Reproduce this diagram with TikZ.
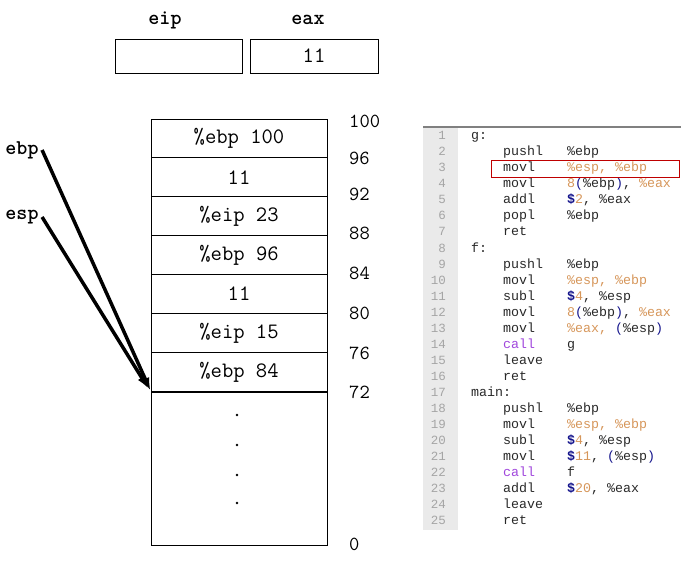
\documentclass[tikz,border=0pt]{standalone}
\usepackage{fontspec}
\newfontfamily\codefont{Liberation Mono}
\usetikzlibrary{arrows.meta,positioning}
\definecolor{regorange}{RGB}{214,150,90}
\definecolor{immblue}{RGB}{20,20,140}
\definecolor{callpurple}{RGB}{160,70,220}
\definecolor{guttergray}{RGB}{234,234,234}
\definecolor{linenogray}{RGB}{165,165,165}
\definecolor{codegray}{RGB}{40,40,40}
\newcommand{\rgo}[1]{\textcolor{regorange}{#1}}
\newcommand{\dol}{\textcolor{immblue}{\textbf{\$}}}
\newcommand{\prn}[1]{\textcolor{immblue}{#1}}

\begin{document}
\begin{tikzpicture}[x=1pt,y=-1pt,
    cell/.style={draw,line width=0.9pt,minimum width=176pt,minimum height=38.9pt,inner sep=0pt,
      font=\ttfamily\fontsize{22}{24}\selectfont},
    regbox/.style={draw,line width=0.9pt,minimum height=34pt,inner sep=0pt,
      font=\ttfamily\fontsize{22}{24}\selectfont},
    reglabel/.style={font=\ttfamily\bfseries\fontsize{21}{24}\selectfont},
    addr/.style={anchor=west,inner sep=0pt,font=\ttfamily\fontsize{20}{22}\selectfont},
    code/.style={anchor=base west,inner sep=0pt,text=codegray,font=\codefont\fontsize{13.3}{16}\selectfont},
    lineno/.style={anchor=base east,inner sep=0pt,text=linenogray,font=\codefont\fontsize{12.5}{14}\selectfont},
    ptr/.style={line width=3.5pt,-{Latex[length=13pt,width=9pt]}}]
  \useasboundingbox (0,0) rectangle (690,561);

  % registers
  \node[reglabel] (eiplbl) at (165,20) {eip};
  \node[reglabel] (eaxlbl) at (308,20) {eax};
  \node[regbox,minimum width=127pt] (eipbox) at (178.5,56) {};
  \node[regbox,minimum width=128pt] (eaxbox) at (314,56) {11};

  % stack cells
  \foreach \txt [count=\i] in {\%ebp 100, 11, \%eip 23, \%ebp 96, 11, \%eip 15, \%ebp 84}
    \node[cell] (s\i) at (239,{119+38.9*(\i-0.5)}) {\txt};
  \node[cell,minimum height=153pt,anchor=north] (rest) at (s7.south) {};
  \foreach \y in {415,445,475,503}
    \fill (237,\y) circle (1.3pt);

  % addresses
  \foreach \a/\y in {100/121, 96/158, 92/194, 88/233, 84/273, 80/313, 76/353, 72/392, 0/544}
    \node[addr] (a\a) at (349,\y) {\a};

  % ebp / esp pointers
  \node[reglabel] (ebp) at (22,150) {ebp};
  \node[reglabel] (esp) at (22,217) {esp};
  \draw[ptr] (ebp.east) -- ([yshift=1pt]s7.south west);
  \draw[ptr] (esp.east) -- ([xshift=-2pt,yshift=3pt]s7.south west);

  % listing
  \fill[guttergray] (423,128) rectangle (458,530);
  \draw[gray,line width=1.6pt] (423,127) -- (681,127);
  \foreach \n in {1,...,25}
    \node[lineno] (n\n) at (446,{140+16*(\n-1)}) {\n};
  \foreach \n/\lbl in {1/g:, 8/f:, 17/main:}
    \node[code] (l\n) at (471,{140+16*(\n-1)}) {\lbl};
  \foreach \n/\m/\o in {
      2/pushl/{\%ebp},
      3/movl/{\rgo{\%esp, \%ebp}},
      4/movl/{\rgo{8}\prn{(}\%ebp\prn{)}, \rgo{\%eax}},
      5/addl/{\dol\rgo{2}, \%eax},
      6/popl/{\%ebp},
      7/ret/{},
      9/pushl/{\%ebp},
      10/movl/{\rgo{\%esp, \%ebp}},
      11/subl/{\dol\rgo{4}, \%esp},
      12/movl/{\rgo{8}\prn{(}\%ebp\prn{)}, \rgo{\%eax}},
      13/movl/{\rgo{\%eax,} \prn{(}\%esp\prn{)}},
      14/{\textcolor{callpurple}{call}}/{g},
      15/leave/{},
      16/ret/{},
      18/pushl/{\%ebp},
      19/movl/{\rgo{\%esp, \%ebp}},
      20/subl/{\dol\rgo{4}, \%esp},
      21/movl/{\dol\rgo{11}, \prn{(}\%esp\prn{)}},
      22/{\textcolor{callpurple}{call}}/{f},
      23/addl/{\dol\rgo{20}, \%eax},
      24/leave/{},
      25/ret/{}}{
    \node[code] (m\n) at (503,{140+16*(\n-1)}) {\m};
    \node[code] (o\n) at (567,{140+16*(\n-1)}) {\o};
  }
  \draw[red!75!black,line width=0.8pt] (491,160) rectangle (679,177);
\end{tikzpicture}
\end{document}
